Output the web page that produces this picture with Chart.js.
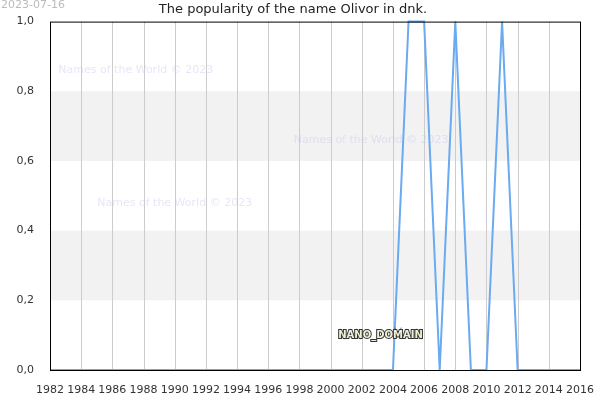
<!DOCTYPE html>
<html>
<head>
<meta charset="utf-8">
<script src="https://cdn.jsdelivr.net/npm/chart.js@4"></script>
<style>
  html, body { margin: 0; padding: 0; background: #fff; }
  #wrap { width: 600px; height: 400px; }
</style>
</head>
<body>
<div id="wrap"><canvas id="chart"></canvas></div>
<script>
const years = [];
for (let y = 1982; y <= 2016; y++) years.push(y);
// popularidad por año (1982..2016)
const popularity = [
  0,0,0,0,0,0,0,0,0,0,  // 1982-1991
  0,0,0,0,0,0,0,0,0,0,  // 1992-2001
  0,0,0,1,1,0,1,0,0,1,  // 2002-2011
  0,0,0,0,0             // 2012-2016
];
const bands = [[0.2, 0.4], [0.6, 0.8]];
const watermarks = [[1987.5, 0.86], [2002.6, 0.66], [1990, 0.48]];

const decor = {
  id: 'decor',
  beforeDatasetsDraw(chart) {
    const { ctx, chartArea: a, scales: { x, y } } = chart;
    ctx.save();
    ctx.fillStyle = '#f2f2f2';
    bands.forEach(([lo, hi]) => {
      const t = y.getPixelForValue(hi), b = y.getPixelForValue(lo);
      ctx.fillRect(a.left, t, a.right - a.left, b - t);
    });
    ctx.strokeStyle = '#cccccc';
    ctx.lineWidth = 1;
    for (let yr = 1984; yr < 2016; yr += 2) {
      const px = Math.round(x.getPixelForValue(yr)) + 0.5;
      ctx.beginPath(); ctx.moveTo(px, a.top); ctx.lineTo(px, a.bottom); ctx.stroke();
    }
    ctx.font = '11px "DejaVu Sans"';
    ctx.fillStyle = 'rgba(200,200,240,0.45)';
    ctx.textAlign = 'center';
    ctx.textBaseline = 'middle';
    watermarks.forEach(([wx, wy]) => ctx.fillText('Names of the World © 2023', x.getPixelForValue(wx), y.getPixelForValue(wy)));
    ctx.restore();
  },
  afterDraw(chart) {
    const { ctx, chartArea: a, scales: { x, y } } = chart;
    ctx.save();
    ctx.strokeStyle = '#000';
    ctx.lineWidth = 1;
    ctx.strokeRect(a.left + 0.5, a.top + 0.5, a.right - a.left, a.bottom - a.top);
    ctx.font = '11px "DejaVu Sans"';
    ctx.fillStyle = '#bbb';
    ctx.textAlign = 'left';
    ctx.textBaseline = 'top';
    ctx.fillText('2023-07-16', 1, 0);
    ctx.font = 'bold 10px "DejaVu Sans"';
    ctx.textAlign = 'center';
    ctx.textBaseline = 'middle';
    ctx.lineWidth = 2;
    ctx.strokeStyle = '#333';
    const px = x.getPixelForValue(2003.2), py = y.getPixelForValue(0.1);
    ctx.strokeText('NANO_DOMAIN', px, py);
    ctx.fillStyle = '#f0f0d8';
    ctx.fillText('NANO_DOMAIN', px, py);
    ctx.restore();
  }
};

new Chart(document.getElementById('chart'), {
  type: 'line',
  data: {
    datasets: [{
      data: years.map((yr, i) => ({ x: yr, y: popularity[i] })),
      borderColor: '#6aaaf0',
      borderWidth: 2,
      pointRadius: 0,
      tension: 0,
      clip: 2
    }]
  },
  options: {
    responsive: true,
    maintainAspectRatio: false,
    animation: false,
    layout: { padding: { left: 0, right: 14, top: 2, bottom: 0 } },
    plugins: {
      legend: { display: false },
      tooltip: { enabled: false },
      title: {
        display: true,
        text: 'The popularity of the name Olivor in dnk.',
        color: '#222',
        font: { family: 'DejaVu Sans', size: 13, weight: 'normal' },
        padding: { top: 0, bottom: 4 }
      }
    },
    scales: {
      x: {
        type: 'linear',
        min: 1982, max: 2016,
        afterFit(s) { s.height = 30; },
        grid: { display: false },
        border: { display: false },
        ticks: {
          stepSize: 2, color: '#333', padding: 6,
          font: { family: 'DejaVu Sans', size: 11 },
          maxRotation: 0, autoSkip: false,
          callback: v => String(v)
        }
      },
      y: {
        min: 0, max: 1,
        afterFit(s) { s.width = 50; },
        grid: { display: false },
        border: { display: false },
        ticks: {
          stepSize: 0.2, color: '#333', padding: 8,
          font: { family: 'DejaVu Sans', size: 11 },
          callback: v => v.toFixed(1).replace('.', ',')
        }
      }
    }
  },
  plugins: [decor]
});
</script>
</body>
</html>
